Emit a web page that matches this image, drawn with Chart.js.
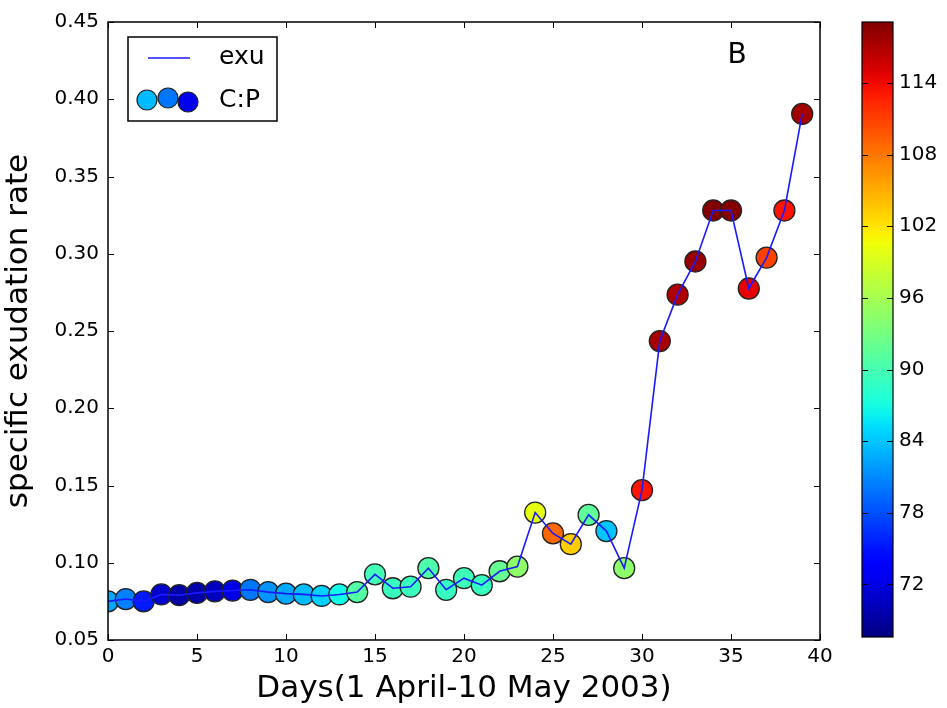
<!DOCTYPE html>
<html>
<head>
<meta charset="utf-8">
<script src="https://cdn.jsdelivr.net/npm/chart.js@4.4.1/dist/chart.umd.min.js"></script>
<style>
html,body{margin:0;padding:0;background:#fff;}
#wrap{position:relative;width:947px;height:708px;overflow:hidden;}
#main{position:absolute;left:0;top:0;}
#cbar{position:absolute;left:850px;top:0;}
</style>
</head>
<body>
<div id="wrap">
<canvas id="main" width="947" height="708"></canvas>
<canvas id="cbar" width="97" height="708"></canvas>
</div>
<script>
// ---- data ----
const days = [0,1,2,3,4,5,6,7,8,9,10,11,12,13,14,15,16,17,18,19,20,21,22,23,24,25,26,27,28,29,30,31,32,33,34,35,36,37,38,39];
const exu = [0.075,0.0765,0.075,0.0795,0.079,0.0805,0.0815,0.082,0.0825,0.081,0.080,0.0795,0.0785,0.0795,0.081,0.0925,0.0835,0.0845,0.0965,0.0825,0.090,0.0855,0.0945,0.0975,0.1325,0.119,0.112,0.131,0.1205,0.0965,0.147,0.2435,0.2735,0.2950,0.3280,0.3280,0.2775,0.2975,0.3280,0.3905];
const cp = [82.5,80.5,75.3,71.0,69.3,69.5,70.4,72.2,80.0,81.5,82.5,83.6,84.6,86.7,90.8,89.7,89.2,89.2,90.5,89.0,89.5,89.0,92.0,94.5,100.0,108.8,103.3,91.5,84.0,94.4,113.4,117.4,117.0,118.0,119.0,119.0,114.5,110.9,113.5,117.5];
const yTicks = [0.05,0.10,0.15,0.20,0.25,0.30,0.35,0.40,0.45];
const xTicks = [0,5,10,15,20,25,30,35,40];
const cbTicks = [72,78,84,90,96,102,108,114];
const cpMin = 67.6, cpMax = 119.1;
const legendLabels = ["exu","C:P"];
const legendCP = [83.5,80.0,72.5];
const panelLabel = "B";

// ---- jet colormap (matplotlib segment data) ----
const jetR = [[0,0],[0.35,0],[0.66,1],[0.89,1],[1,0.5]];
const jetG = [[0,0],[0.125,0],[0.375,1],[0.64,1],[0.91,0],[1,0]];
const jetB = [[0,0.5],[0.11,1],[0.34,1],[0.65,0],[1,0]];
function seg(s,t){
  for(let i=1;i<s.length;i++){
    if(t<=s[i][0]){const a=s[i-1],b=s[i];return a[1]+(b[1]-a[1])*(t-a[0])/(b[0]-a[0]);}
  }
  return s[s.length-1][1];
}
function jet(t){
  t=Math.max(0,Math.min(1,t));
  const r=Math.round(255*seg(jetR,t)),g=Math.round(255*seg(jetG,t)),b=Math.round(255*seg(jetB,t));
  return `rgb(${r},${g},${b})`;
}
function cpColor(v){return jet((v-cpMin)/(cpMax-cpMin));}

const FONT = "'DejaVu Sans', sans-serif";
const lineBlue = '#1a1aff';

const pts = days.map((d,i)=>({x:d,y:exu[i]}));

// plugin: frame + inward ticks + legend + panel label
const decorPlugin = {
  id:'decor',
  afterDatasetsDraw(chart){
    const ctx=chart.ctx, a=chart.chartArea;
    const xs=chart.scales.x, ys=chart.scales.y;
    ctx.save();
    ctx.strokeStyle='#000';
    ctx.lineWidth=1;
    const L=6;
    ctx.beginPath();
    xs.ticks.forEach(t=>{
      const px=Math.round(xs.getPixelForValue(t.value))+0.5;
      ctx.moveTo(px,a.bottom);ctx.lineTo(px,a.bottom-L);
      ctx.moveTo(px,a.top);ctx.lineTo(px,a.top+L);
    });
    ys.ticks.forEach(t=>{
      const py=Math.round(ys.getPixelForValue(t.value))+0.5;
      ctx.moveTo(a.left,py);ctx.lineTo(a.left+L,py);
      ctx.moveTo(a.right,py);ctx.lineTo(a.right-L,py);
    });
    ctx.stroke();
    ctx.lineWidth=1.5;
    ctx.strokeRect(a.left,a.top,a.right-a.left,a.bottom-a.top);

    // legend
    const bx=a.left+20, by=a.top+15, bw=149, bh=84;
    ctx.fillStyle='#fff';
    ctx.fillRect(bx,by,bw,bh);
    ctx.lineWidth=1.5;
    ctx.strokeStyle='#000';
    ctx.strokeRect(bx,by,bw,bh);
    ctx.strokeStyle=lineBlue;
    ctx.lineWidth=1.5;
    ctx.beginPath();
    ctx.moveTo(bx+20,by+21);ctx.lineTo(bx+62,by+21);
    ctx.stroke();
    const cx=[bx+19,bx+40,bx+60], cy=[by+63,by+61,by+65];
    for(let i=0;i<3;i++){
      ctx.beginPath();
      ctx.arc(cx[i],cy[i],10,0,Math.PI*2);
      ctx.fillStyle=cpColor(legendCP[i]);
      ctx.fill();
      ctx.lineWidth=1.2;
      ctx.strokeStyle='#222';
      ctx.stroke();
    }
    ctx.fillStyle='#000';
    ctx.font='25px '+FONT;
    ctx.textBaseline='middle';
    ctx.textAlign='left';
    ctx.fillText(legendLabels[0],bx+91,by+20);
    ctx.fillText(legendLabels[1],bx+91,by+63);
    // panel label
    ctx.font='28px '+FONT;
    ctx.textAlign='center';
    ctx.fillText(panelLabel,737,56);
    ctx.restore();
  }
};

new Chart(document.getElementById('main'),{
  type:'line',
  data:{datasets:[
    {label:'exu',data:pts,borderColor:lineBlue,borderWidth:1.6,pointRadius:0,fill:false,tension:0,order:1,clip:0},
    {label:'C:P',type:'scatter',data:pts,showLine:false,pointRadius:10.5,pointHoverRadius:10.5,
     pointBackgroundColor:cp.map(cpColor),pointBorderColor:'#222',pointBorderWidth:1.3,order:2,clip:0}
  ]},
  options:{
    responsive:false,animation:false,
    events:[],
    layout:{padding:{left:0,top:22,right:127,bottom:0}},
    plugins:{legend:{display:false},tooltip:{enabled:false}},
    scales:{
      x:{type:'linear',min:0,max:40,
        afterBuildTicks(s){s.ticks=xTicks.map(v=>({value:v}));},
        afterFit(s){s.height=68;},
        grid:{display:false,drawTicks:false},
        border:{display:false},
        ticks:{color:'#000',font:{family:FONT,size:20},padding:5,maxRotation:0,callback:v=>String(v)},
        title:{display:true,text:'Days(1 April-10 May 2003)',color:'#000',font:{family:FONT,size:31},padding:{top:0,bottom:0}}
      },
      y:{type:'linear',min:0.05,max:0.45,
        afterBuildTicks(s){s.ticks=yTicks.map(v=>({value:v}));},
        afterFit(s){s.width=108;},
        grid:{display:false,drawTicks:false},
        border:{display:false},
        ticks:{color:'#000',font:{family:FONT,size:20},padding:9,callback:v=>Number(v).toFixed(2)},
        title:{display:true,text:'specific exudation rate',color:'#000',font:{family:FONT,size:31},padding:{top:0,bottom:0}}
      }
    }
  },
  plugins:[decorPlugin]
});

// ---- colorbar ----
const cbPlugin = {
  id:'cbdecor',
  afterDatasetsDraw(chart){
    const ctx=chart.ctx,a=chart.chartArea,ys=chart.scales.y;
    ctx.save();
    ctx.strokeStyle='#000';ctx.lineWidth=1;
    ctx.beginPath();
    ys.ticks.forEach(t=>{
      const py=Math.round(ys.getPixelForValue(t.value))+0.5;
      ctx.moveTo(a.right,py);ctx.lineTo(a.right-6,py);
      ctx.moveTo(a.left,py);ctx.lineTo(a.left+6,py);
    });
    ctx.stroke();
    ctx.lineWidth=1.2;
    ctx.strokeRect(a.left,a.top,a.right-a.left,a.bottom-a.top);
    ctx.restore();
  }
};
new Chart(document.getElementById('cbar'),{
  type:'bar',
  data:{labels:['C:P'],datasets:[{data:[[cpMin,cpMax]],
    backgroundColor(c){
      const ch=c.chart,a=ch.chartArea;
      if(!a) return '#888';
      const g=ch.ctx.createLinearGradient(0,a.bottom,0,a.top);
      for(let i=0;i<=50;i++){g.addColorStop(i/50,jet(i/50));}
      return g;
    },borderWidth:0,barPercentage:1,categoryPercentage:1}]},
  options:{
    responsive:false,animation:false,events:[],
    layout:{padding:{left:12,top:22,right:0,bottom:71}},
    plugins:{legend:{display:false},tooltip:{enabled:false}},
    scales:{
      x:{display:false},
      y:{position:'right',min:cpMin,max:cpMax,
        afterBuildTicks(s){s.ticks=cbTicks.map(v=>({value:v}));},
        afterFit(s){s.width=54;},
        grid:{display:false,drawTicks:false},border:{display:false},
        ticks:{color:'#000',font:{family:FONT,size:20},padding:6,callback:v=>String(v)}
      }
    }
  },
  plugins:[cbPlugin]
});
</script>
</body>
</html>
